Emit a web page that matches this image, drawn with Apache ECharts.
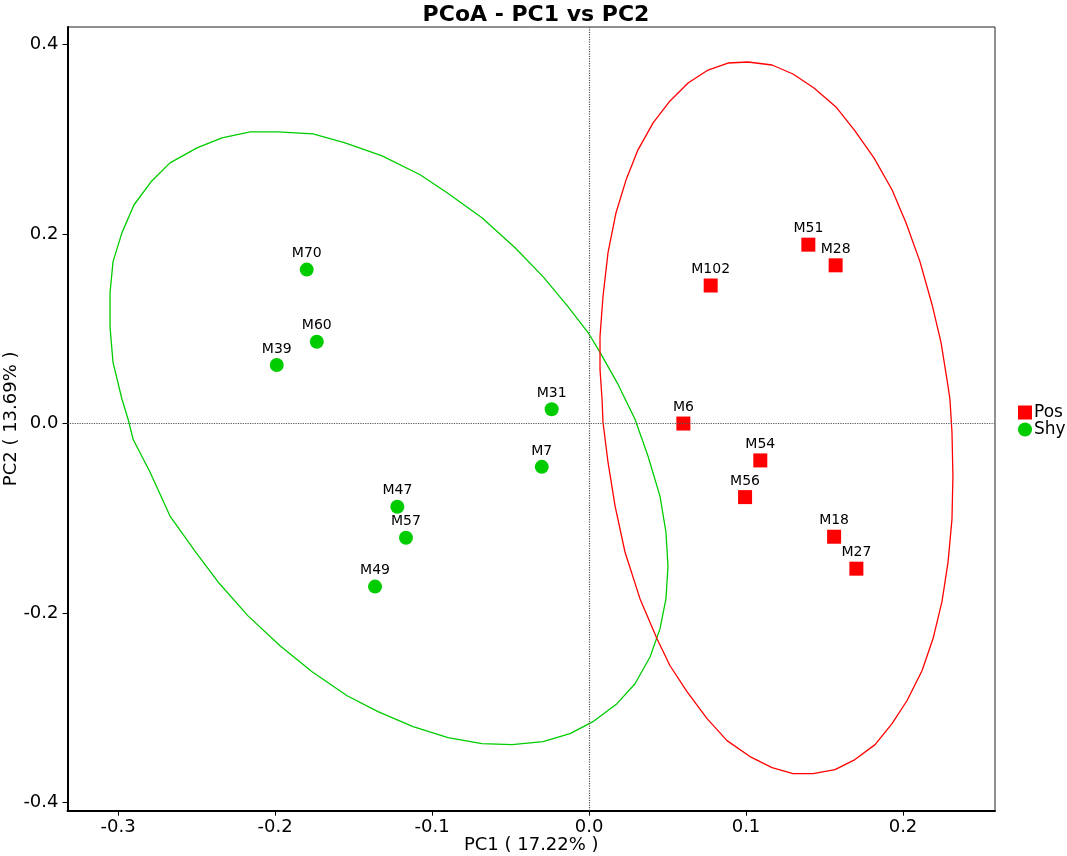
<!DOCTYPE html>
<html>
<head>
<meta charset="utf-8">
<script src="https://cdn.jsdelivr.net/npm/echarts@6/dist/echarts.min.js"></script>
<style>
  html, body { margin: 0; padding: 0; background: #fff; }
  #chart { width: 1067px; height: 856px; }
</style>
</head>
<body>
<div id="chart"></div>
<script>
// sample scores on PC1 / PC2
const posNames = ['M51', 'M28', 'M102', 'M6', 'M54', 'M56', 'M18', 'M27'];
const posPC1 = [0.1397, 0.1571, 0.0775, 0.0601, 0.1091, 0.0994, 0.1561, 0.1703];
const posPC2 = [0.1887, 0.1669, 0.1456, 0.0000, -0.0389, -0.0776, -0.1194, -0.1531];

const shyNames = ['M70', 'M60', 'M39', 'M31', 'M7', 'M47', 'M57', 'M49'];
const shyPC1 = [-0.1798, -0.1734, -0.1989, -0.0238, -0.0301, -0.1221, -0.1166, -0.1363];
const shyPC2 = [0.1624, 0.0863, 0.0617, 0.0151, -0.0457, -0.0878, -0.1204, -0.1720];

// confidence ellipse outlines
const posEllX = [0.1013, 0.1166, 0.1299, 0.1433, 0.1573, 0.1694, 0.1815, 0.1930, 0.2019, 0.2108,
  0.2185, 0.2242, 0.2280, 0.2299, 0.2312, 0.2318, 0.2312, 0.2287, 0.2248, 0.2191,
  0.2121, 0.2025, 0.1930, 0.1822, 0.1694, 0.1567, 0.1427, 0.1299, 0.1166, 0.1025,
  0.0879, 0.0752, 0.0624, 0.0516, 0.0433, 0.0325, 0.0229, 0.0166, 0.0121, 0.0089,
  0.0083, 0.0070, 0.0070, 0.0089, 0.0121, 0.0172, 0.0236, 0.0312, 0.0408, 0.0516,
  0.0631, 0.0758, 0.0885, 0.1013];
const posEllY = [0.3814, 0.3782, 0.3687, 0.3540, 0.3340, 0.3087, 0.2803, 0.2466, 0.2119, 0.1708,
  0.1256, 0.0856, 0.0466, 0.0256, -0.0092, -0.0555, -0.1008, -0.1461, -0.1882, -0.2271,
  -0.2608, -0.2924, -0.3166, -0.3387, -0.3545, -0.3650, -0.3692, -0.3692, -0.3629, -0.3513,
  -0.3345, -0.3113, -0.2829, -0.2555, -0.2271, -0.1850, -0.1355, -0.0871, -0.0408, 0.0014,
  0.0256, 0.0571, 0.0919, 0.1340, 0.1803, 0.2224, 0.2571, 0.2887, 0.3171, 0.3403,
  0.3592, 0.3729, 0.3803, 0.3814];

const shyEllX = [-0.1981, -0.1758, -0.1554, -0.1318, -0.1076, -0.0904, -0.0682, -0.0471, -0.0293, -0.0134,
  -0.0006, 0.0070, 0.0178, 0.0293, 0.0376, 0.0452, 0.0490, 0.0503, 0.0490, 0.0452,
  0.0389, 0.0293, 0.0178, 0.0025, -0.0121, -0.0293, -0.0490, -0.0682, -0.0898, -0.1121,
  -0.1344, -0.1541, -0.1764, -0.1968, -0.2172, -0.2363, -0.2510, -0.2669, -0.2796, -0.2904,
  -0.2936, -0.2975, -0.3032, -0.3051, -0.3051, -0.3032, -0.2975, -0.2898, -0.2790, -0.2669,
  -0.2497, -0.2338, -0.2159, -0.1981];
const shyEllY = [0.3077, 0.3056, 0.2961, 0.2824, 0.2624, 0.2434, 0.2171, 0.1855, 0.1550, 0.1234,
  0.0960, 0.0751, 0.0435, 0.0045, -0.0345, -0.0766, -0.1144, -0.1502, -0.1850, -0.2166,
  -0.2460, -0.2745, -0.2955, -0.3145, -0.3271, -0.3355, -0.3387, -0.3376, -0.3313, -0.3197,
  -0.3039, -0.2871, -0.2619, -0.2345, -0.2029, -0.1671, -0.1345, -0.0976, -0.0513, -0.0166,
  0.0045, 0.0256, 0.0645, 0.1014, 0.1382, 0.1708, 0.2014, 0.2308, 0.2550, 0.2750,
  0.2908, 0.3013, 0.3077, 0.3077];

const xTicks = [-0.3, -0.2, -0.1, 0.0, 0.1, 0.2];
const yTicks = [-0.4, -0.2, 0.0, 0.2, 0.4];

const RED = '#ff0000';
const GREEN = '#00cc00';
const FONT = 'DejaVu Sans';

function pts(xs, ys, names) {
  return xs.map((x, i) => names ? { name: names[i], value: [x, ys[i]] } : [x, ys[i]]);
}

const chart = echarts.init(document.getElementById('chart'), null, { renderer: 'canvas' });

const pointLabel = {
  show: true,
  position: 'top',
  distance: 2,
  formatter: p => p.name,
  color: '#000',
  opacity: 1,
  fontFamily: FONT,
  fontSize: 14
};

const option = {
  animation: false,
  backgroundColor: '#fff',
  title: {
    text: 'PCoA - PC1 vs PC2',
    left: 531,
    top: -1,
    textAlign: 'center',
    textStyle: { fontFamily: FONT, fontSize: 22, fontWeight: 'bold', color: '#000' }
  },
  legend: {
    orient: 'vertical',
    left: 1013,
    top: 399,
    itemWidth: 14,
    itemHeight: 14,
    itemGap: 0,
    data: [
      { name: 'Pos', icon: 'rect' },
      { name: 'Shy', icon: 'circle' }
    ],
    textStyle: { fontFamily: FONT, fontSize: 17, lineHeight: 14, color: '#000', padding: [0, 0, 0, -3] }
  },
  grid: {
    left: 67.5,
    right: 72,
    top: 27,
    bottom: 45.3,
    outerBoundsMode: 'none',
    containLabel: false,
    show: true,
    borderColor: '#222',
    borderWidth: 1
  },
  xAxis: {
    type: 'value',
    min: -0.3322,
    max: 0.2586,
    name: 'PC1 ( 17.22% )',
    nameLocation: 'middle',
    nameGap: 26,
    nameMoveOverlap: false,
    nameTextStyle: { fontFamily: FONT, fontSize: 18, color: '#000' },
    axisLine: { show: true, onZero: false, lineStyle: { color: '#000', width: 2 } },
    axisTick: { show: true, length: 5, customValues: xTicks, lineStyle: { color: '#000' } },
    axisLabel: {
      customValues: xTicks,
      margin: 8,
      fontFamily: FONT,
      fontSize: 18,
      color: '#000',
      formatter: v => v.toFixed(1)
    },
    splitLine: { show: false }
  },
  yAxis: {
    type: 'value',
    min: -0.4084,
    max: 0.4183,
    name: 'PC2 ( 13.69% )',
    nameLocation: 'middle',
    nameGap: 47,
    nameMoveOverlap: false,
    nameTextStyle: { fontFamily: FONT, fontSize: 18, color: '#000' },
    axisLine: { show: true, onZero: false, lineStyle: { color: '#000', width: 2 } },
    axisTick: { show: true, length: 5, customValues: yTicks, lineStyle: { color: '#000' } },
    axisLabel: {
      customValues: yTicks,
      margin: 9,
      fontFamily: FONT,
      fontSize: 18,
      color: '#000',
      formatter: v => v.toFixed(1)
    },
    splitLine: { show: false }
  },
  series: [
    {
      name: 'zero',
      type: 'line',
      data: [],
      silent: true,
      markLine: {
        silent: true,
        symbol: 'none',
        label: { show: false },
        lineStyle: { type: 'dotted', color: '#555', width: 1.2 },
        data: [{ xAxis: 0 }, { yAxis: 0 }]
      }
    },
    {
      name: 'Shy ellipse',
      type: 'line',
      data: pts(shyEllX, shyEllY),
      showSymbol: false,
      smooth: false,
      silent: true,
      lineStyle: { color: GREEN, width: 1.3 }
    },
    {
      name: 'Pos ellipse',
      type: 'line',
      data: pts(posEllX, posEllY),
      showSymbol: false,
      smooth: false,
      silent: true,
      lineStyle: { color: RED, width: 1.3 }
    },
    {
      name: 'Pos',
      type: 'scatter',
      symbol: 'rect',
      symbolSize: 14,
      itemStyle: { color: RED, opacity: 1 },
      label: pointLabel,
      data: pts(posPC1, posPC2, posNames)
    },
    {
      name: 'Shy',
      type: 'scatter',
      symbol: 'circle',
      symbolSize: 14,
      itemStyle: { color: GREEN, opacity: 1 },
      label: pointLabel,
      data: pts(shyPC1, shyPC2, shyNames)
    }
  ]
};

chart.setOption(option);
</script>
</body>
</html>
